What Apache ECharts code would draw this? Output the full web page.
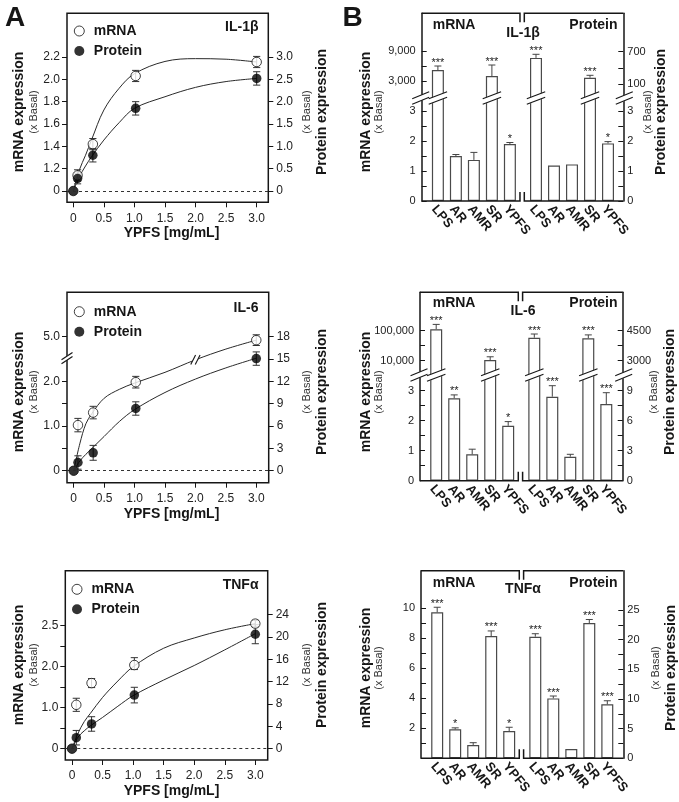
<!DOCTYPE html>
<html><head><meta charset="utf-8">
<script src="https://cdn.jsdelivr.net/npm/echarts@6/dist/echarts.min.js"></script>
<style>html,body{margin:0;padding:0;background:#fff}#c{width:679px;height:802px}</style>
</head><body><div id="c"></div>
<script>
// ================= DATA =================
// Panel A : dose response (YPFS mg/mL)
const doses = [0, 0.07, 0.32, 1.02, 3.0];
const fitX  = [0, 0.1, 0.2, 0.3, 0.5, 0.75, 1.0, 1.5, 2.0, 2.5, 3.0];
const doseTicks = [0, 0.5, 1, 1.5, 2, 2.5, 3];
const doseTickLabels = ['0', '0.5', '1.0', '1.5', '2.0', '2.5', '3.0'];

const il1bMrna    = [0, 1.14, 1.42, 2.03, 2.155];
const il1bMrnaErr = [0, 0.05, 0.05, 0.05, 0.05];
const il1bProt    = [0, 0.28, 0.80, 1.85, 2.52];
const il1bProtErr = [0, 0.12, 0.15, 0.15, 0.15];
const il1bMrnaFit = [0, 1.19, 1.32, 1.46, 1.725, 1.92, 2.05, 2.16, 2.185, 2.18, 2.155];
const il1bProtFit = [0, 0.32, 0.56, 0.77, 1.14, 1.53, 1.85, 2.11, 2.32, 2.45, 2.52];
const il1bMrnaTicks = [0, 1.2, 1.4, 1.6, 1.8, 2.0, 2.2];
const il1bMrnaTickLabels = ['0', '1.2', '1.4', '1.6', '1.8', '2.0', '2.2'];
const il1bProtTicks = [0, 0.5, 1, 1.5, 2, 2.5, 3];
const il1bProtTickLabels = ['0', '0.5', '1.0', '1.5', '2.0', '2.5', '3.0'];

const il6Mrna    = [0, 1.02, 1.30, 1.98, 4.92];
const il6MrnaErr = [0, 0.15, 0.14, 0.13, 0.12];
const il6Prot    = [0, 1.1, 2.4, 8.35, 15.05];
const il6ProtErr = [0, 0.9, 1.0, 0.9, 0.9];
const il6MrnaFit = [0, 0.6, 1.05, 1.28, 1.62, 1.82, 1.96, 2.2, 2.48, 4.72, 4.92];
const il6ProtFit = [0, 1.3, 2.2, 3.0, 4.6, 6.6, 8.2, 10.5, 12.3, 13.8, 15.1];
const il6MrnaTicks = [0, 0.5, 1, 1.5, 2, 5];
const il6MrnaTickLabels = ['0', '', '1.0', '', '2.0', '5.0'];
const il6ProtTicks = [0, 3, 6, 9, 12, 15, 18];
const il6ProtTickLabels = ['0', '3', '6', '9', '12', '15', '18'];

const tnfMrna    = [0, 1.07, 1.6, 2.02, 2.525];
const tnfMrnaErr = [0, 0.16, 0.11, 0.09, 0.04];
const tnfProt    = [0, 1.97, 4.43, 9.6, 20.5];
const tnfProtErr = [0, 1.3, 1.3, 1.4, 1.7];
const tnfMrnaFit = [0, 0.38, 0.66, 0.86, 1.25, 1.65, 2.0, 2.225, 2.35, 2.45, 2.525];
const tnfProtFit = [0, 2.1, 3.2, 4.1, 5.6, 7.6, 9.5, 12.3, 14.9, 17.7, 20.6];
const tnfMrnaTicks = [0, 0.5, 1, 1.5, 2, 2.25, 2.5];
const tnfMrnaTickLabels = ['0', '', '1.0', '', '2.0', '', '2.5'];
const tnfProtTicks = [0, 4, 8, 12, 16, 20, 24];
const tnfProtTickLabels = ['0', '4', '8', '12', '16', '20', '24'];

// Panel B : treatments
const treatments = ['LPS', 'AR', 'AMR', 'SR', 'YPFS'];

const il1bBarMrna     = [5200, 1.5, 1.37, 4000, 1.9];
const il1bBarMrnaErr  = [800, 0.05, 0.25, 2200, 0.05];
const il1bBarProt     = [584, 1.18, 1.22, 221, 1.92];
const il1bBarProtErr  = [66, 0.02, 0.02, 44, 0.06];
const il1bStarsMrna   = ['***', '', '', '***', '*'];
const il1bStarsProt   = ['***', '', '', '***', '*'];
const il1bBarMrnaTicks  = [0, 0.5, 1, 1.5, 2, 2.5, 3, 3000, 6000, 9000];
const il1bBarMrnaLabels = ['0', '', '1', '', '2', '', '3', '3,000', '', '9,000'];
const il1bBarProtTicks  = [0, 0.5, 1, 1.5, 2, 2.5, 3, 100, 400, 700];
const il1bBarProtLabels = ['0', '', '1', '', '2', '', '3', '100', '', '700'];

const il6BarMrna     = [112200, 2.75, 0.88, 10500, 1.83];
const il6BarMrnaErr  = [50000, 0.11, 0.17, 3000, 0.14];
const il6BarProt     = [4150, 8.4, 2.4, 4120, 7.67];
const il6BarProtErr  = [185, 1.1, 0.24, 170, 1.13];
const il6StarsMrna   = ['***', '**', '', '***', '*'];
const il6StarsProt   = ['***', '***', '', '***', '***'];
const il6BarMrnaTicks  = [0, 0.5, 1, 1.5, 2, 2.5, 3, 10000, 31623, 100000];
const il6BarMrnaLabels = ['0', '', '1', '', '2', '', '3', '10,000', '', '100,000'];
const il6BarProtTicks  = [0, 1.5, 3, 4.5, 6, 7.5, 9, 3000, 3750, 4500];
const il6BarProtLabels = ['0', '', '3', '', '6', '', '9', '3000', '', '4500'];

const tnfBarMrna     = [9.73, 1.93, 0.89, 8.15, 1.82];
const tnfBarMrnaErr  = [0.34, 0.1, 0.15, 0.34, 0.25];
const tnfBarProt     = [20.5, 10.1, 1.57, 22.8, 9.1];
const tnfBarProtErr  = [0.5, 0.4, 0, 0.6, 0.6];
const tnfStarsMrna   = ['***', '*', '', '***', '*'];
const tnfStarsProt   = ['***', '***', '', '***', '***'];
const tnfBarMrnaTicks  = [1, 2, 3, 4, 5, 6, 7, 8, 9, 10];
const tnfBarMrnaLabels = ['', '2', '', '4', '', '6', '', '8', '', '10'];
const tnfBarProtTicks  = [0, 2.5, 5, 7.5, 10, 12.5, 15, 17.5, 20, 22.5, 25];
const tnfBarProtLabels = ['0', '', '5', '', '10', '', '15', '', '20', '', '25'];

// ================= AXIS BREAK MAPPINGS =================
const ident = v => v;
const tA1m = v => v >= 1 ? v - 1 : 0;
const tA2m = v => v >= 4.5 ? v - 2 : Math.min(v, 2.5);
const tA3m = v => v <= 2 ? v : 2 + (v - 2) * 2;
const tB1m = v => v <= 3.5 ? v : 3.5 + v / 6000;
const tB1p = v => v <= 3.5 ? v : 3.89 + (v - 100) / 550;
const tB2m = v => v <= 3.5 ? v : 4 + Math.log10(v / 1e4);
const tB2p = v => v <= 10.5 ? v / 3 : 4 + (v - 3000) / 1500;

// ================= BUILD =================
const FF = '"Liberation Sans", Arial, Helvetica, sans-serif';
const INK = '#161616';
const option = { animation: false, backgroundColor: '#fff', grid: [], xAxis: [], yAxis: [], series: [], legend: [], graphic: [] };

function lookup(vals, labels) {
  return function (v) {
    for (let i = 0; i < vals.length; i++) if (Math.abs(vals[i] - v) < 1e-6) return labels[i];
    return '';
  };
}
function slash(cx, cy, hw, hh, sx, sy, lw) {
  const c1 = [cx - sx / 2, cy + sy / 2], c2 = [cx + sx / 2, cy - sy / 2];
  const a1 = [c1[0] - hw, c1[1] + hh], b1 = [c1[0] + hw, c1[1] - hh];
  const a2 = [c2[0] - hw, c2[1] + hh], b2 = [c2[0] + hw, c2[1] - hh];
  return [
    { type: 'polygon', shape: { points: [a1, b1, b2, a2] }, style: { fill: '#fff', stroke: '#fff', lineWidth: 0.5 } },
    { type: 'line', shape: { x1: a1[0], y1: a1[1], x2: b1[0], y2: b1[1] }, style: { stroke: INK, lineWidth: lw || 1.2 } },
    { type: 'line', shape: { x1: a2[0], y1: a2[1], x2: b2[0], y2: b2[1] }, style: { stroke: INK, lineWidth: lw || 1.2 } }
  ];
}
function txt(text, x, y, font, opts) {
  opts = opts || {};
  const align = opts.align || 'center';
  return {
    type: 'text', x: x, y: y, rotation: opts.rot || 0, silent: true,
    style: { text: text, font: font, fill: opts.fill || INK, align: align, textAlign: align, verticalAlign: 'middle', textVerticalAlign: 'middle' }
  };
}
function valueAxis(extra) {
  return Object.assign({
    type: 'value', splitLine: { show: false },
    axisLine: { show: false, onZero: false },
  }, extra);
}

const panelA = [
  { gene: 'IL-1β', box: [67, 13.3, 201.3, 189], xr: [-0.103, 3.19], yl: [-0.101, 1.591], yr: [-0.253, 3.978], tm: tA1m,
    m: il1bMrna, me: il1bMrnaErr, p: il1bProt, pe: il1bProtErr, mf: il1bMrnaFit, pf: il1bProtFit,
    lt: il1bMrnaTicks, ll: il1bMrnaTickLabels, rt: il1bProtTicks, rl: il1bProtTickLabels,
    legTop: 19, legLeft: 68.8, geneY: 26.7, titleY: 112 },
  { gene: 'IL-6', box: [67, 292.3, 201.7, 190.4], xr: [-0.11, 3.204], yl: [-0.268, 3.99], yr: [-1.61, 23.95], tm: tA2m,
    m: il6Mrna, me: il6MrnaErr, p: il6Prot, pe: il6ProtErr, mf: il6MrnaFit, pf: il6ProtFit,
    lt: il6MrnaTicks, ll: il6MrnaTickLabels, rt: il6ProtTicks, rl: il6ProtTickLabels,
    legTop: 299.7, legLeft: 68.8, geneY: 308.3, titleY: 392, brk: { axisT: 2.52, curveX: 2.0, curveT: 2.48 } },
  { gene: 'TNFα', box: [65.3, 570.7, 202.4, 189.3], xr: [-0.11, 3.203], yl: [-0.276, 4.341], yr: [-2.024, 31.88], tm: tA3m,
    m: tnfMrna, me: tnfMrnaErr, p: tnfProt, pe: tnfProtErr, mf: tnfMrnaFit, pf: tnfProtFit,
    lt: tnfMrnaTicks, ll: tnfMrnaTickLabels, rt: tnfProtTicks, rl: tnfProtTickLabels,
    legTop: 577.3, legLeft: 66.5, geneY: 585, titleY: 665 }
];

function errRender(color) {
  return function (params, api) {
    const x = api.value(0), lo = api.value(1), hi = api.value(2);
    const p1 = api.coord([x, hi]), p2 = api.coord([x, lo]);
    const cw = 3.6;
    const st = { stroke: color, lineWidth: 1 };
    return { type: 'group', children: [
      { type: 'line', shape: { x1: p1[0], y1: p1[1], x2: p2[0], y2: p2[1] }, style: st },
      { type: 'line', shape: { x1: p1[0] - cw, y1: p1[1], x2: p1[0] + cw, y2: p1[1] }, style: st },
      { type: 'line', shape: { x1: p2[0] - cw, y1: p2[1], x2: p2[0] + cw, y2: p2[1] }, style: st }
    ] };
  };
}

panelA.forEach(function (P) {
  const g = option.grid.length;
  const [l, t, w, h] = P.box;
  option.grid.push({ left: l, top: t, width: w, height: h, show: true, borderColor: INK, borderWidth: 1.5, backgroundColor: 'transparent' });
  const xi = option.xAxis.length;
  option.xAxis.push(valueAxis({
    gridIndex: g, min: P.xr[0], max: P.xr[1],
    axisTick: { show: true, inside: false, length: 5, customValues: doseTicks, lineStyle: { color: INK, width: 1 } },
    axisLabel: { customValues: doseTicks, formatter: lookup(doseTicks, doseTickLabels), margin: 10, fontSize: 12, color: '#222', fontFamily: FF }
  }));
  const yl = option.yAxis.length;
  const ltT = P.lt.map(P.tm);
  option.yAxis.push(valueAxis({
    gridIndex: g, position: 'left', min: P.yl[0], max: P.yl[1],
    axisTick: { show: true, inside: false, length: 5, customValues: ltT, lineStyle: { color: INK, width: 1 } },
    axisLabel: { customValues: ltT, formatter: lookup(ltT, P.ll), margin: 7, fontSize: 12, color: '#222', fontFamily: FF }
  }));
  const yr = option.yAxis.length;
  option.yAxis.push(valueAxis({
    gridIndex: g, position: 'right', min: P.yr[0], max: P.yr[1],
    axisTick: { show: true, inside: false, length: 5, customValues: P.rt, lineStyle: { color: INK, width: 1 } },
    axisLabel: { customValues: P.rt, formatter: lookup(P.rt, P.rl), margin: 8, fontSize: 12, color: '#222', fontFamily: FF }
  }));

  option.series.push({
    type: 'line', name: P.gene + ' mRNA fit', xAxisIndex: xi, yAxisIndex: yl, silent: true,
    data: fitX.map((x, i) => [x, P.tm(P.mf[i])]), smooth: 0.35, symbol: 'none',
    lineStyle: { color: '#2a2a2a', width: 1 }, z: 2,
    markLine: { silent: true, symbol: ['none', 'none'], label: { show: false },
      lineStyle: { type: [3, 3], color: '#333', width: 1 }, data: [{ yAxis: 0 }] }
  });
  option.series.push({
    type: 'line', name: P.gene + ' protein fit', xAxisIndex: xi, yAxisIndex: yr, silent: true,
    data: fitX.map((x, i) => [x, P.pf[i]]), smooth: 0.35, symbol: 'none',
    lineStyle: { color: '#2a2a2a', width: 1 }, z: 2
  });
  option.series.push({
    type: 'custom', xAxisIndex: xi, yAxisIndex: yl, z: 3, silent: true, renderItem: errRender('#333'),
    encode: { x: 0, y: [1, 2] },
    data: doses.map((x, i) => [x, P.tm(P.m[i] - P.me[i]), P.tm(P.m[i] + P.me[i])]).filter((d, i) => P.me[i] > 0)
  });
  option.series.push({
    type: 'custom', xAxisIndex: xi, yAxisIndex: yr, z: 3, silent: true, renderItem: errRender('#333'),
    encode: { x: 0, y: [1, 2] },
    data: doses.map((x, i) => [x, P.p[i] - P.pe[i], P.p[i] + P.pe[i]]).filter((d, i) => P.pe[i] > 0)
  });
  option.series.push({
    type: 'scatter', name: 'mRNA', xAxisIndex: xi, yAxisIndex: yl, z: 5, symbol: 'circle', symbolSize: 9.5,
    itemStyle: { color: '#fff', borderColor: '#111', borderWidth: 1 },
    data: doses.map((x, i) => [x, P.tm(P.m[i])])
  });
  option.series.push({
    type: 'scatter', name: 'Protein', xAxisIndex: xi, yAxisIndex: yr, z: 6, symbol: 'circle', symbolSize: 9.5,
    itemStyle: { color: '#000' },
    data: doses.map((x, i) => [x, P.p[i]])
  });
  if (P.brk) {
    const B = P.brk, xmin = P.xr[0];
    option.series.push({
      type: 'custom', xAxisIndex: xi, yAxisIndex: yl, z: 8, silent: true, data: [[B.curveX, B.curveT]],
      renderItem: function (params, api) {
        const pa = api.coord([xmin, B.axisT]);
        const pc = api.coord([B.curveX, B.curveT]);
        return { type: 'group', children: slash(pa[0], pa[1], 5.5, 3.6, 0, 4, 1.2).concat(slash(pc[0], pc[1], 2.4, 4.8, 4.5, 0, 1.1)) };
      }
    });
  }
  option.legend.push({
    left: P.legLeft, top: P.legTop, orient: 'vertical', itemWidth: 19, itemHeight: 10, itemGap: 6, selectedMode: false,
    data: [
      { name: 'mRNA', icon: 'circle', itemStyle: { color: '#fff', borderColor: '#111', borderWidth: 1 } },
      { name: 'Protein', icon: 'circle', itemStyle: { color: '#000', borderWidth: 0 } }
    ],
    textStyle: { fontFamily: FF, fontWeight: 'bold', fontSize: 14, color: INK, lineHeight: 14 }
  });
  // texts
  option.graphic.push(txt(P.gene, 258.5, P.geneY, 'bold 14px ' + FF, { align: 'right' }));
  option.graphic.push(txt('mRNA expression', 19.5, P.titleY, 'bold 14px ' + FF, { rot: Math.PI / 2 }));
  option.graphic.push(txt('(x Basal)', 33.5, P.titleY, '11px ' + FF, { rot: Math.PI / 2, fill: '#333' }));
  option.graphic.push(txt('Protein expression', 322, P.titleY, 'bold 14px ' + FF, { rot: Math.PI / 2 }));
  option.graphic.push(txt('(x Basal)', 306.5, P.titleY, '11px ' + FF, { rot: Math.PI / 2, fill: '#333' }));
  option.graphic.push(txt('YPFS [mg/mL]', 171.5, t + h + 31, 'bold 14px ' + FF));
});

// ---------- Panel B ----------
const SLOT = 18, XMIN = -0.9, PROT_OFF = 5.45, SPLIT_L = 4.56, SPLIT_R = 4.8;
const panelB = [
  { gene: 'IL-1β', box: [421.7, 13.3, 201.6, 187.7], ppuL: 30, ppuR: 30, tm: tB1m, tp: tB1p, brkT: 3.43,
    m: il1bBarMrna, me: il1bBarMrnaErr, p: il1bBarProt, pe: il1bBarProtErr, sm: il1bStarsMrna, sp: il1bStarsProt,
    lt: il1bBarMrnaTicks, ll: il1bBarMrnaLabels, rt: il1bBarProtTicks, rl: il1bBarProtLabels,
    labY: 25, geneY: 33.3, titleY: 112, rTitleX: 661, rSubX: 648 },
  { gene: 'IL-6', box: [420, 292.3, 202.7, 188.4], ppuL: 30, ppuR: 30, tm: tB2m, tp: tB2p, brkT: 3.52,
    m: il6BarMrna, me: il6BarMrnaErr, p: il6BarProt, pe: il6BarProtErr, sm: il6StarsMrna, sp: il6StarsProt,
    lt: il6BarMrnaTicks, ll: il6BarMrnaLabels, rt: il6BarProtTicks, rl: il6BarProtLabels,
    labY: 303.3, geneY: 310.7, titleY: 392, rTitleX: 670, rSubX: 654 },
  { gene: 'TNFα', box: [421, 570.7, 202.3, 187.6], ppuL: 15, ppuR: 5.932, tm: ident, tp: ident, brkT: null,
    m: tnfBarMrna, me: tnfBarMrnaErr, p: tnfBarProt, pe: tnfBarProtErr, sm: tnfStarsMrna, sp: tnfStarsProt,
    lt: tnfBarMrnaTicks, ll: tnfBarMrnaLabels, rt: tnfBarProtTicks, rl: tnfBarProtLabels,
    labY: 582.7, geneY: 589.3, titleY: 668, rTitleX: 671, rSubX: 656 }
];

function barDecor(stars, brkT, color) {
  return function (params, api) {
    const x = api.value(0), tTop = api.value(1), tCap = api.value(2);
    const pTop = api.coord([x, tTop]), pCap = api.coord([x, tCap]);
    const ch = [];
    const st = { stroke: color, lineWidth: 1 };
    if (pTop[1] - pCap[1] > 0.6) {
      ch.push({ type: 'line', shape: { x1: pTop[0], y1: pTop[1], x2: pCap[0], y2: pCap[1] }, style: st });
      ch.push({ type: 'line', shape: { x1: pCap[0] - 3.5, y1: pCap[1], x2: pCap[0] + 3.5, y2: pCap[1] }, style: st });
    }
    const s = stars[params.dataIndex];
    if (s) ch.push({ type: 'text', x: pCap[0], y: pCap[1] - 9, silent: true,
      style: { text: s, font: '11px ' + FF, fill: '#222', align: 'center', textAlign: 'center', verticalAlign: 'top', textVerticalAlign: 'top' } });
    if (brkT != null && tTop > brkT + 0.3) {
      const pb = api.coord([x, brkT]);
      slash(pb[0], pb[1], 9.2, 3.5, 0, 5.5, 1.1).forEach(e => ch.push(e));
    }
    return { type: 'group', children: ch };
  };
}

panelB.forEach(function (P) {
  const g = option.grid.length;
  const [l, t, w, h] = P.box;
  const xmax = w / SLOT + XMIN;
  option.grid.push({ left: l, top: t, width: w, height: h, show: false });
  const xi = option.xAxis.length;
  const labPos = treatments.map((_, i) => i - 0.22).concat(treatments.map((_, i) => i + PROT_OFF - 0.22));
  const labTxt = treatments.concat(treatments);
  option.xAxis.push(valueAxis({
    gridIndex: g, min: XMIN, max: xmax,
    axisTick: { show: false },
    axisLabel: { customValues: labPos, formatter: lookup(labPos, labTxt), rotate: -50, margin: 6,
      fontSize: 13, fontWeight: 'bold', color: INK, fontFamily: FF }
  }));
  const ltT = P.lt.map(P.tm), rtT = P.rt.map(P.tp);
  const yl = option.yAxis.length;
  option.yAxis.push(valueAxis({
    gridIndex: g, position: 'left', min: 0, max: h / P.ppuL,
    axisLine: { show: true, onZero: false, lineStyle: { color: INK, width: 1.5 } },
    axisTick: { show: true, inside: true, length: 5, customValues: ltT, lineStyle: { color: INK, width: 1 } },
    axisLabel: { customValues: ltT, formatter: lookup(ltT, P.ll), margin: 6, fontSize: 11, color: '#222', fontFamily: FF }
  }));
  const yr = option.yAxis.length;
  option.yAxis.push(valueAxis({
    gridIndex: g, position: 'right', min: 0, max: h / P.ppuR,
    axisLine: { show: true, onZero: false, lineStyle: { color: INK, width: 1.5 } },
    axisTick: { show: true, inside: true, length: 5, customValues: rtT, lineStyle: { color: INK, width: 1 } },
    axisLabel: { customValues: rtT, formatter: lookup(rtT, P.rl), margin: 4, fontSize: 11, color: '#222', fontFamily: FF }
  }));
  const barStyle = { color: '#fff', borderColor: '#4a4a4a', borderWidth: 1.2 };
  option.series.push({
    type: 'bar', name: P.gene + ' mRNA bars', xAxisIndex: xi, yAxisIndex: yl, barWidth: 12, barGap: '-100%', z: 2, silent: true,
    itemStyle: barStyle, data: P.m.map((v, i) => [i, P.tm(v)])
  });
  option.series.push({
    type: 'bar', name: P.gene + ' protein bars', xAxisIndex: xi, yAxisIndex: yr, barWidth: 12, barGap: '-100%', z: 2, silent: true,
    itemStyle: barStyle, data: P.p.map((v, i) => [i + PROT_OFF, P.tp(v)])
  });
  option.series.push({
    type: 'custom', xAxisIndex: xi, yAxisIndex: yl, z: 4, silent: true, encode: { x: 0, y: [1, 2] },
    renderItem: barDecor(P.sm, P.brkT, '#444'),
    data: P.m.map((v, i) => [i, P.tm(v), P.tm(v + P.me[i])])
  });
  option.series.push({
    type: 'custom', xAxisIndex: xi, yAxisIndex: yr, z: 4, silent: true, encode: { x: 0, y: [1, 2] },
    renderItem: barDecor(P.sp, P.brkT, '#444'),
    data: P.p.map((v, i) => [i + PROT_OFF, P.tp(v), P.tp(v + P.pe[i])])
  });
  // split frame (top / bottom brackets) + axis breaks
  const ymax = h / P.ppuL, brkT = P.brkT;
  option.series.push({
    type: 'custom', xAxisIndex: xi, yAxisIndex: yl, z: 6, silent: true, data: [[SPLIT_L, 0]],
    renderItem: function (params, api) {
      const st = { stroke: INK, lineWidth: 1.5, fill: null };
      const tl = api.coord([XMIN, ymax]), tr = api.coord([xmax, ymax]);
      const bl = api.coord([XMIN, 0]), br = api.coord([xmax, 0]);
      const sl = api.coord([SPLIT_L, 0])[0], sr = api.coord([SPLIT_R, 0])[0];
      const stub = 9;
      const ch = [
        { type: 'polyline', shape: { points: [[tl[0], tl[1]], [sl, tl[1]], [sl, tl[1] + stub]] }, style: st },
        { type: 'polyline', shape: { points: [[sr, tl[1] + stub], [sr, tr[1]], [tr[0], tr[1]]] }, style: st },
        { type: 'polyline', shape: { points: [[bl[0], bl[1]], [sl, bl[1]], [sl, bl[1] - stub]] }, style: st },
        { type: 'polyline', shape: { points: [[sr, br[1] - stub], [sr, br[1]], [br[0], br[1]]] }, style: st }
      ];
      if (brkT != null) {
        const pl = api.coord([XMIN, brkT]), pr = api.coord([xmax, brkT]);
        slash(pl[0] - 1, pl[1], 8.5, 3.5, 0, 5.5, 1.1).forEach(e => ch.push(e));
        slash(pr[0] + 1, pr[1], 8.5, 3.5, 0, 5.5, 1.1).forEach(e => ch.push(e));
      }
      return { type: 'group', children: ch };
    }
  });
  option.graphic.push(txt('mRNA', 432.7, P.labY, 'bold 14px ' + FF, { align: 'left' }));
  option.graphic.push(txt('Protein', 569.3, P.labY, 'bold 14px ' + FF, { align: 'left' }));
  option.graphic.push(txt(P.gene, 523, P.geneY, 'bold 14px ' + FF));
  option.graphic.push(txt('mRNA expression', 366, P.titleY, 'bold 14px ' + FF, { rot: Math.PI / 2 }));
  option.graphic.push(txt('(x Basal)', 379, P.titleY, '11px ' + FF, { rot: Math.PI / 2, fill: '#333' }));
  option.graphic.push(txt('Protein expression', P.rTitleX, P.titleY, 'bold 14px ' + FF, { rot: Math.PI / 2 }));
  option.graphic.push(txt('(x Basal)', P.rSubX, P.titleY, '11px ' + FF, { rot: Math.PI / 2, fill: '#333' }));
});

option.graphic.push(txt('A', 15, 18, 'bold 28px ' + FF));
option.graphic.push(txt('B', 352.5, 18, 'bold 28px ' + FF));

const chart = echarts.init(document.getElementById('c'), null, { renderer: 'canvas' });
chart.setOption(option);
</script>
</body></html>
